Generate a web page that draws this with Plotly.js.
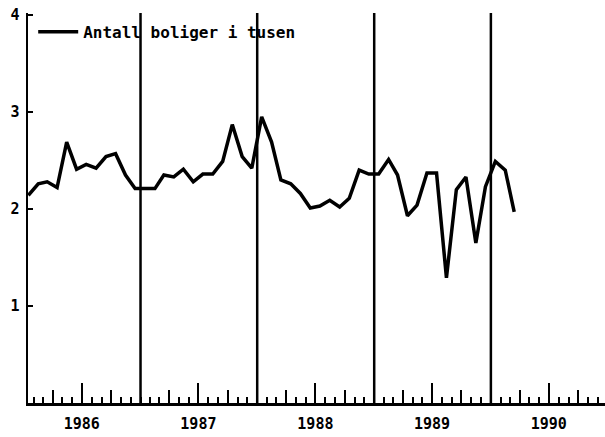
<!DOCTYPE html>
<html>
<head>
<meta charset="utf-8">
<script src="https://cdn.plot.ly/plotly-3.0.1.min.js"></script>
<style>
  html, body { margin: 0; padding: 0; background: #ffffff; }
  #chart { width: 605px; height: 437px; }
</style>
</head>
<body>
<div id="chart"></div>
<script>
// ---- Data (thousand dwellings, monthly) ----
const years = ['1986', '1987', '1988', '1989', '1990'];
const v1986 = [2.14, 2.26, 2.28, 2.22, 2.69, 2.41, 2.46, 2.42, 2.54, 2.57, 2.35, 2.21];
const v1987 = [2.21, 2.21, 2.35, 2.33, 2.41, 2.28, 2.36, 2.36, 2.49, 2.87, 2.54, 2.42];
const v1988 = [2.95, 2.69, 2.30, 2.26, 2.16, 2.01, 2.03, 2.09, 2.02, 2.11, 2.40, 2.36];
const v1989 = [2.36, 2.51, 2.35, 1.93, 2.04, 2.37, 2.37, 1.29, 2.20, 2.33, 1.65, 2.23];
const v1990 = [2.49, 2.40, 1.97];
const seriesName = 'Antall boliger i tusen';
const yTicks = [1, 2, 3, 4];

// ---- Build x (mid-month dates) / y from the arrays ----
const perYear = [v1986, v1987, v1988, v1989, v1990];
const xs = [], ys = [];
perYear.forEach((arr, i) => {
  arr.forEach((v, m) => {
    xs.push(years[i] + '-' + String(m + 1).padStart(2, '0') + '-15');
    ys.push(v);
  });
});

const FONT = 'DejaVu Sans Mono, monospace';
const xRange = ['1986-01-14', '1990-12-24'];

const quarterTicks = [];
years.forEach(y => { quarterTicks.push(y + '-04-01', y + '-10-01'); });
const midYearTicks = years.map(y => y + '-07-01');
const boundaries = years.slice(1).map(y => y + '-01-01');

const shapes = boundaries.map(d => ({
  type: 'line', xref: 'x', yref: 'paper',
  x0: d, x1: d, y0: 0, y1: 1,
  line: { color: '#000', width: 2.5 }
}));

const trace = {
  x: xs, y: ys, type: 'scatter', mode: 'lines', name: seriesName,
  line: { color: '#000', width: 3.5 }, showlegend: true
};

const layout = {
  width: 605, height: 437,
  margin: { l: 28, r: 0, t: 13, b: 34, pad: 0 },
  paper_bgcolor: '#fff', plot_bgcolor: '#fff',
  font: { family: FONT, color: '#000', size: 15, weight: 'bold' },
  showlegend: true,
  legend: {
    x: 0.009, y: 0.995, xanchor: 'left', yanchor: 'top',
    itemwidth: 40,
    bgcolor: 'rgba(0,0,0,0)', borderwidth: 0,
    font: { family: FONT, size: 16, color: '#000', weight: 'bold' }
  },
  xaxis: {
    type: 'date', range: xRange,
    showline: true, linecolor: '#000', linewidth: 3,
    showgrid: false, zeroline: false,
    tickmode: 'array', tickvals: quarterTicks,
    ticks: 'inside', ticklen: 13, tickwidth: 2, tickcolor: '#000',
    showticklabels: false,
    minor: { dtick: 'M1', tick0: '1986-01-01', ticks: 'inside', ticklen: 6, tickwidth: 2, tickcolor: '#000', showgrid: false }
  },
  xaxis2: {
    type: 'date', range: xRange, overlaying: 'x', anchor: 'y', side: 'bottom',
    showline: false, showgrid: false, zeroline: false,
    tickmode: 'array', tickvals: midYearTicks, ticktext: years,
    ticks: 'inside', ticklen: 20, tickwidth: 2, tickcolor: '#000',
    ticklabelstandoff: 10,
    tickfont: { family: FONT, size: 15, color: '#000', weight: 'bold' }
  },
  yaxis: {
    range: [0, 4.02],
    showline: true, linecolor: '#000', linewidth: 2.5,
    showgrid: false, zeroline: false,
    tickmode: 'array', tickvals: yTicks, ticktext: yTicks.map(String),
    ticks: 'inside', ticklen: 5, tickwidth: 2, tickcolor: '#000',
    ticklabelstandoff: 3,
    tickfont: { family: FONT, size: 15, color: '#000', weight: 'bold' }
  },
  shapes: shapes
};

// dummy trace on xaxis2 so the overlay axis is drawn
const axisTrace = { x: [xRange[0]], y: [null], xaxis: 'x2', yaxis: 'y', type: 'scatter', mode: 'lines', showlegend: false, hoverinfo: 'skip' };

Plotly.newPlot('chart', [trace, axisTrace], layout, { staticPlot: true, displayModeBar: false });
</script>
</body>
</html>
